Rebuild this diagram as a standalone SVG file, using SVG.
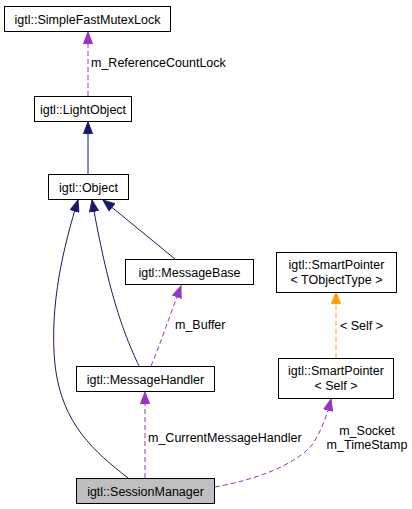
<svg xmlns="http://www.w3.org/2000/svg" width="412" height="509" viewBox="0 0 412 509">
<style>
.n rect{fill:#fff;stroke:#000;stroke-width:1}
.n text,.lbl{font-family:"Liberation Sans",Arial,sans-serif;font-size:12.5px;fill:#000}
.n text{text-anchor:middle}
.inh{fill:none;stroke:#191970;stroke-width:1}
.use{fill:none;stroke:#9a32cd;stroke-width:1;stroke-dasharray:5,3}
.tpl{fill:none;stroke:#ffa500;stroke-width:1;stroke-dasharray:5,3}
</style>
<defs>
<marker id="aInh" markerUnits="userSpaceOnUse" markerWidth="13" markerHeight="10" refX="12" refY="5" orient="auto"><path d="M0.5,0.5 L12,5 L0.5,9.5 z" fill="#191970" stroke="#191970"/></marker>
<marker id="aUse" markerUnits="userSpaceOnUse" markerWidth="13" markerHeight="10" refX="12" refY="5" orient="auto"><path d="M0.5,0.5 L12,5 L0.5,9.5 z" fill="#9a32cd" stroke="#9a32cd"/></marker>
<marker id="aTpl" markerUnits="userSpaceOnUse" markerWidth="13" markerHeight="10" refX="12" refY="5" orient="auto"><path d="M0.5,0.5 L12,5 L0.5,9.5 z" fill="#ffa500" stroke="#ffa500"/></marker>
</defs>
<g id="edges">
<path class="use" d="M88,96 L88,32" marker-end="url(#aUse)"/>
<text class="lbl" x="91" y="67">m_ReferenceCountLock</text>
<path class="inh" d="M88,174 L88,122" marker-end="url(#aInh)"/>
<path class="inh" d="M128,478 C95,452 62,425 55,365 C49,305 64,245 78,200" marker-end="url(#aInh)"/>
<path class="inh" d="M139,366 C122,330 108,290 92,200" marker-end="url(#aInh)"/>
<path class="inh" d="M175,259 L103,200" marker-end="url(#aInh)"/>
<path class="use" d="M151,366 C160,345 170,315 181,286" marker-end="url(#aUse)"/>
<text class="lbl" x="175" y="329">m_Buffer</text>
<path class="use" d="M145,478 L145,392" marker-end="url(#aUse)"/>
<text class="lbl" x="148" y="442">m_CurrentMessageHandler</text>
<path class="use" d="M215,487 C255,480 295,465 312,445 C322,430 327,415 331,399" marker-end="url(#aUse)"/>
<text class="lbl" x="367" y="435" text-anchor="middle">m_Socket</text>
<text class="lbl" x="367" y="449" text-anchor="middle">m_TimeStamp</text>
<path class="tpl" d="M336,358 L336,292" marker-end="url(#aTpl)"/>
<text class="lbl" x="340" y="330">&lt; Self &gt;</text>
</g>
<g id="SimpleFastMutexLock" class="n"><rect x="4.5" y="6.5" width="166" height="25"/><text x="87.5" y="23.5">igtl::SimpleFastMutexLock</text></g>
<g id="LightObject" class="n"><rect x="34.5" y="96.5" width="97" height="25"/><text x="83" y="113.5">igtl::LightObject</text></g>
<g id="Object" class="n"><rect x="48.5" y="174.5" width="80" height="25"/><text x="88.5" y="191.5">igtl::Object</text></g>
<g id="MessageBase" class="n"><rect x="125.5" y="259.5" width="128" height="25"/><text x="189.5" y="276.5">igtl::MessageBase</text></g>
<g id="MessageHandler" class="n"><rect x="76.5" y="366.5" width="138" height="25"/><text x="145.5" y="383.5">igtl::MessageHandler</text></g>
<g id="SessionManager" class="n"><rect x="76.5" y="478.5" width="138" height="25" style="fill:#bfbfbf"/><text x="145.5" y="495.5">igtl::SessionManager</text></g>
<g id="SmartPointerT" class="n"><rect x="276.5" y="252.5" width="120" height="40"/><text x="336.5" y="268.5">igtl::SmartPointer</text><text x="336.5" y="283.5">&lt; TObjectType &gt;</text></g>
<g id="SmartPointerSelf" class="n"><rect x="278.5" y="358.5" width="115" height="40"/><text x="336" y="374.5">igtl::SmartPointer</text><text x="336" y="389.5">&lt; Self &gt;</text></g>
</svg>
